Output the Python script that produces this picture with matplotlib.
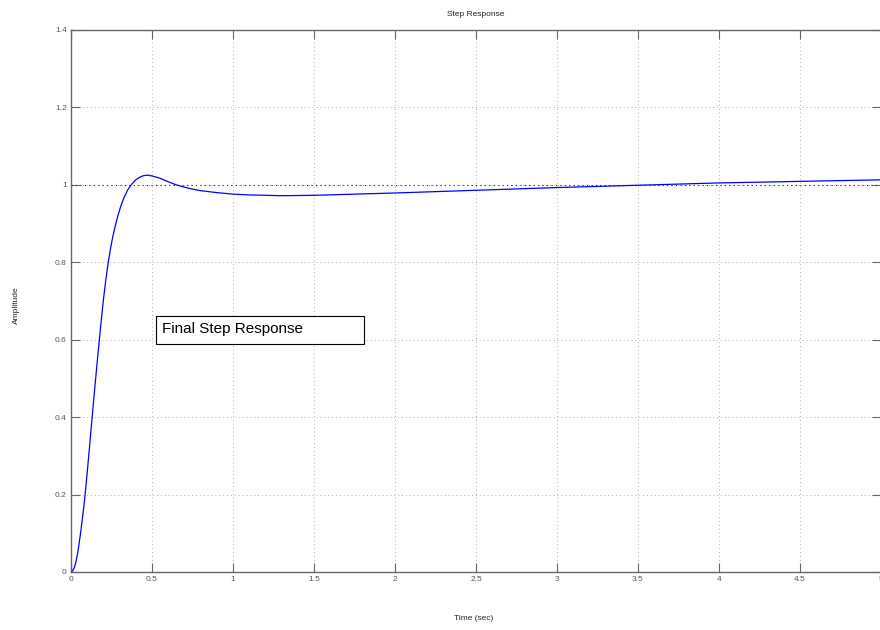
import matplotlib
matplotlib.use("Agg")
import matplotlib.pyplot as plt
from matplotlib.patches import Rectangle

# Step response samples
time_s = [0.0, 0.01, 0.02, 0.03, 0.04, 0.05, 0.06, 0.07, 0.08, 0.09, 0.10,
          0.11, 0.12, 0.13, 0.14, 0.15, 0.16, 0.175, 0.19, 0.2, 0.215, 0.23,
          0.245, 0.26, 0.275, 0.29, 0.305, 0.325, 0.35, 0.375, 0.4, 0.425,
          0.45, 0.475, 0.5, 0.55, 0.6, 0.65, 0.7, 0.75, 0.8, 0.9, 1.0, 1.1,
          1.2, 1.3, 1.5, 1.75, 2.0, 2.5, 3.0, 3.5, 4.0, 4.5, 5.0]
amplitude = [0.0, 0.003, 0.011, 0.025, 0.046, 0.073, 0.104, 0.137, 0.172, 0.212, 0.257,
             0.303, 0.350, 0.397, 0.444, 0.490, 0.535, 0.600, 0.663, 0.703, 0.755, 0.800,
             0.838, 0.870, 0.897, 0.921, 0.942, 0.965, 0.987, 1.002, 1.013, 1.020,
             1.024, 1.025, 1.023, 1.017, 1.008, 1.000, 0.994, 0.989, 0.985, 0.980, 0.976, 0.974,
             0.973, 0.972, 0.973, 0.976, 0.979, 0.986, 0.993, 0.999, 1.005, 1.009, 1.013]
steady_state = 1.0
x_ticks = [0, 0.5, 1, 1.5, 2, 2.5, 3, 3.5, 4, 4.5, 5]
x_ticklabels = ["0", "0.5", "1", "1.5", "2", "2.5", "3", "3.5", "4", "4.5", "5"]
y_ticks = [0, 0.2, 0.4, 0.6, 0.8, 1.0, 1.2, 1.4]
y_ticklabels = ["0", "0.2", "0.4", "0.6", "0.8", "1", "1.2", "1.4"]
title = "Step Response"
xlabel = "Time (sec)"
ylabel = "Amplitude"
note = "Final Step Response"

plt.rcParams['font.family'] = ['Liberation Sans', 'DejaVu Sans']

fig = plt.figure(figsize=(8.8, 6.3), dpi=100)
ax = fig.add_axes([71/880, 1-572/630, 810/880, 542/630])

ax.set_xlim(0, 5)
ax.set_ylim(0, 1.4)

tick_col = '#555555'
spine_col = '#666666'
ax.set_xticks(x_ticks)
ax.set_xticklabels(x_ticklabels)
ax.set_yticks(y_ticks)
ax.set_yticklabels(y_ticklabels)
ax.tick_params(direction='in', length=6.5, width=0.8, colors=spine_col,
               labelcolor=tick_col, labelsize=6, top=True, right=True, pad=3)
for s in ax.spines.values():
    s.set_color(spine_col)
    s.set_linewidth(1.0)

ax.grid(True, linestyle=(0, (1, 3)), color='#b0b0b0', linewidth=0.7)
ax.axhline(steady_state, color='#222222', linestyle=(0, (1, 3)), linewidth=0.8, zorder=2)

ax.plot(time_s, amplitude, color='#0000ff', linewidth=0.9, zorder=3)

ax.add_patch(Rectangle((0.525, 0.589), 1.284, 0.072, facecolor='white',
                       edgecolor='black', linewidth=0.8, zorder=4))
ax.text(0.562, 0.627, note, fontsize=11, va='center', ha='left', zorder=5)

fig.text(476/880, 1-15/630, title, fontsize=6, ha='center', va='center', color='#222222')
fig.text(474/880, 1-618/630, xlabel, fontsize=6, ha='center', va='center', color='#222222')
fig.text(16/880, 1-305/630, ylabel, fontsize=6, ha='center', va='center',
         rotation=90, color='#222222')

fig.savefig("out.png", dpi=100)
